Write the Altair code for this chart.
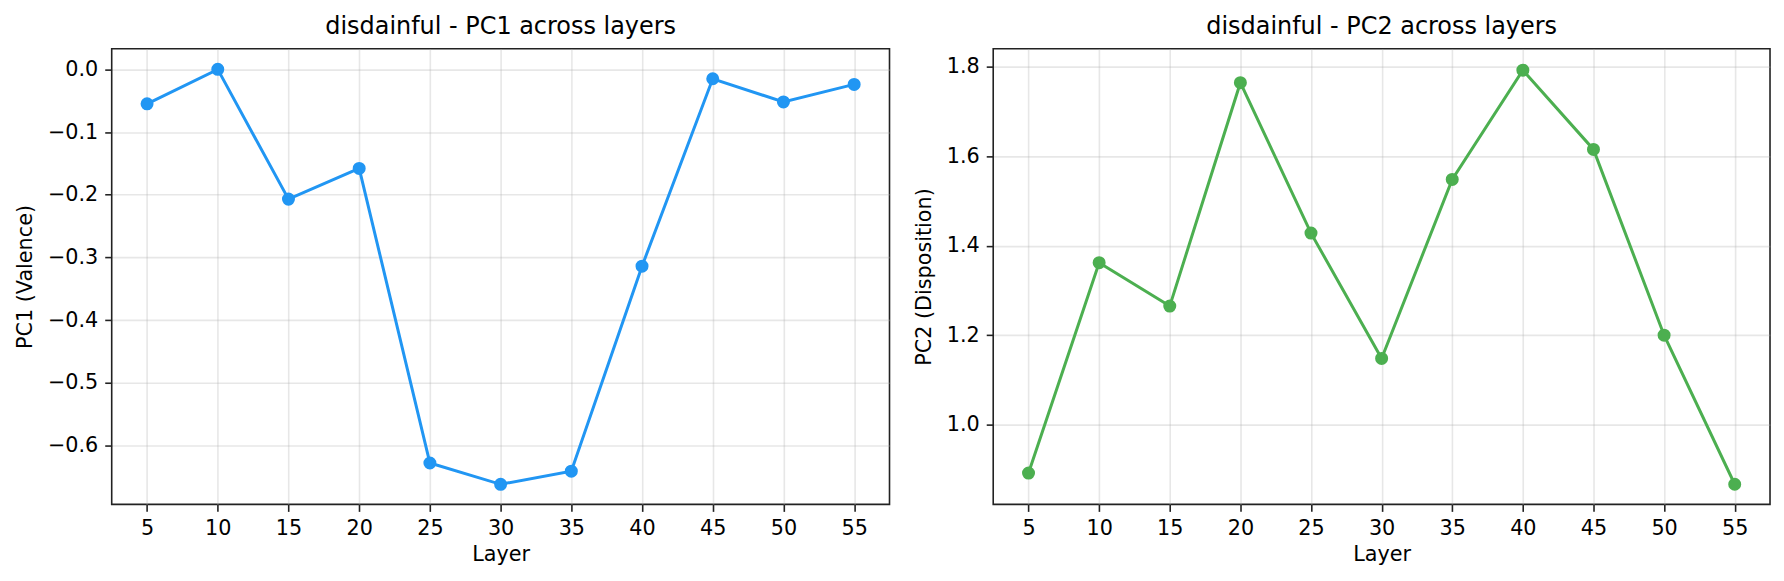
import altair as alt
import pandas as pd

layers = [5, 10, 15, 20, 25, 30, 35, 40, 45, 50, 55]
pc1 = [-0.055, 0.0, -0.207, -0.158, -0.628, -0.662, -0.641, -0.314, -0.015, -0.052, -0.024]
pc2 = [0.892, 1.362, 1.265, 1.764, 1.428, 1.148, 1.548, 1.792, 1.615, 1.200, 0.867]

pc1_ticks = [-0.6, -0.5, -0.4, -0.3, -0.2, -0.1, 0.0]
pc2_ticks = [1.0, 1.2, 1.4, 1.6, 1.8]

df = pd.DataFrame({"Layer": layers, "PC1": pc1, "PC2": pc2})

FONT = "DejaVu Sans"


def panel(field, title, ytitle, color, ydomain, yticks, width):
    x = alt.X("Layer:Q", title="Layer",
              scale=alt.Scale(domain=[2.5, 57.5], nice=False, zero=False),
              axis=alt.Axis(values=layers, titlePadding=6))
    y = alt.Y(f"{field}:Q", title=ytitle,
              scale=alt.Scale(domain=ydomain, nice=False, zero=False),
              axis=alt.Axis(values=yticks, format=".1f", titlePadding=12))
    return alt.Chart(df).mark_line(
        color=color, strokeWidth=3,
        point=alt.OverlayMarkDef(filled=True, size=170, color=color, opacity=1),
    ).encode(x=x, y=y).properties(
        width=width, height=457,
        title=alt.TitleParams(title, fontSize=24, font=FONT, fontWeight="normal",
                              color="black", offset=10),
    )


left = panel("PC1", "disdainful - PC1 across layers", "PC1 (Valence)",
             "#2196F3", [-0.694, 0.033], pc1_ticks, 780)
right = panel("PC2", "disdainful - PC2 across layers", "PC2 (Disposition)",
              "#4CAF50", [0.822, 1.840], pc2_ticks, 779)

chart = alt.hconcat(left, right, spacing=22).configure_view(
    stroke="#222222", strokeWidth=1.6
).configure_axis(
    domain=False,
    grid=True, gridColor="#b0b0b0", gridOpacity=0.3, gridWidth=1.6,
    tickColor="#222222", tickSize=7, tickWidth=1.6,
    labelPadding=7, labelFont=FONT, labelFontSize=20.8, labelColor="black",
    titleFont=FONT, titleFontSize=20.8, titleFontWeight="normal", titleColor="black",
)

chart.save("out.html", embed_options={"renderer": "svg", "actions": False})
